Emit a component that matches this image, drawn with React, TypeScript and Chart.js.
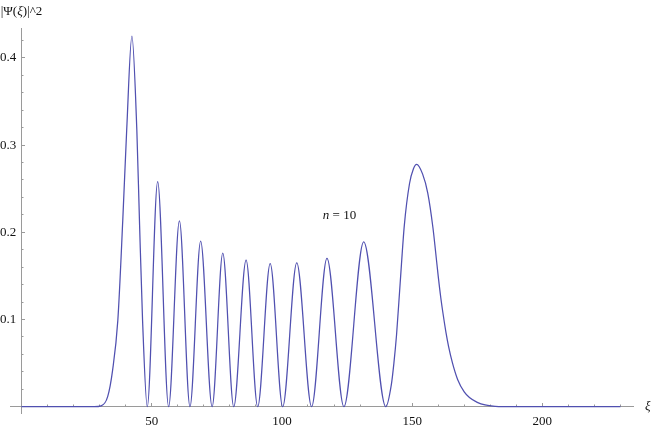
import React, { useEffect, useRef } from 'react';
import { Chart, registerables } from 'chart.js';

Chart.register(...registerables);

// ---- data ----
const xiValues = [
  0, 20, 28, 30.6, 33.1, 35.0, 37.0, 38.9, 40.4, 42.4, 44.3, 45.3, 46.5, 48.3,
  52.3, 56.5, 60.65, 64.7, 68.8, 73.2, 77.3, 81.5, 86.25, 90.7, 95.5, 100.3,
  105.7, 111.4, 117.3, 123.8, 131.4, 139.9,
  142, 143, 144, 145.4, 147, 149, 150.5, 151.7, 154, 156, 158, 159, 160, 161, 162, 163,
  164, 165.5, 167.5, 170, 172, 175, 178, 182, 188, 230,
];
const psiSquared = [
  0, 0, 0, 0.001, 0.0115, 0.042, 0.099, 0.214, 0.317, 0.425, 0.317, 0.214, 0.099, 0,
  0.258, 0, 0.213, 0, 0.19, 0, 0.176, 0, 0.168, 0, 0.164, 0,
  0.165, 0, 0.17, 0, 0.189, 0,
  0.025, 0.05, 0.082, 0.1415, 0.208, 0.256, 0.273, 0.278, 0.267, 0.245, 0.205, 0.178, 0.15, 0.125, 0.104, 0.085,
  0.069, 0.05, 0.031, 0.017, 0.0105, 0.005, 0.002, 0.0005, 0, 0,
];
const xMajorTickLabels = [50, 100, 150, 200];
const yMajorTickLabels = [0.1, 0.2, 0.3, 0.4];
const xRange = [-4.4, 234.8];
const yRange = [-0.0072, 0.4343];
const yAxisTitle: [string, boolean][] = [['|Ψ(', false], ['ξ', true], [')|^2', false]];
const xAxisTitle: [string, boolean][] = [['ξ', true]];
const stateLabel: [string, boolean][] = [['n', true], [' = 10', false]];
const stateLabelAt = { x: 122.1, y: 0.219 };

const FONT = "'Liberation Serif', 'DejaVu Serif', serif";
const AXIS_COLOR = '#9a9a9a';
const LINE_COLOR = 'rgb(80, 80, 176)';
const TEXT_COLOR = '#111';

const yLabelFor = (v: number): string => {
  const r = Math.round(v * 10) / 10;
  return yMajorTickLabels.includes(r) && Math.abs(v - r) < 1e-6 ? String(r) : '';
};

const textPlugin = {
  id: 'mmaText',
  afterDraw(chart: any) {
    const ctx = chart.ctx as CanvasRenderingContext2D;
    const xs = chart.scales.x;
    const ys = chart.scales.y;
    const drawRuns = (runs: [string, boolean][], cx: number, cy: number, align: 'center' | 'left') => {
      ctx.save();
      ctx.textBaseline = 'middle';
      ctx.textAlign = 'left';
      ctx.fillStyle = TEXT_COLOR;
      const fonts = runs.map(([, it]) => `${it ? 'italic ' : ''}13px ${FONT}`);
      const widths = runs.map(([t], i) => {
        ctx.font = fonts[i];
        return ctx.measureText(t).width;
      });
      const total = widths.reduce((a, b) => a + b, 0);
      let x = align === 'center' ? cx - total / 2 : cx;
      runs.forEach(([t], i) => {
        ctx.font = fonts[i];
        ctx.fillText(t, x, cy);
        x += widths[i];
      });
      ctx.restore();
    };
    // y tick labels, taken from the y scale's own ticks
    const axisX = xs.getPixelForValue(0);
    ctx.save();
    ctx.font = `13px ${FONT}`;
    ctx.fillStyle = TEXT_COLOR;
    ctx.textAlign = 'right';
    ctx.textBaseline = 'middle';
    ys.ticks.forEach((t: any) => {
      const label = yLabelFor(Number(t.value));
      if (label) ctx.fillText(label, axisX - 5.2, ys.getPixelForValue(t.value));
    });
    ctx.restore();

    drawRuns(yAxisTitle, axisX, ys.top - 16, 'center');
    drawRuns(xAxisTitle, xs.right + 12, ys.getPixelForValue(0), 'left');
    drawRuns(stateLabel, xs.getPixelForValue(stateLabelAt.x), ys.getPixelForValue(stateLabelAt.y), 'center');
  },
};

export default function App() {
  const canvasRef = useRef<HTMLCanvasElement | null>(null);

  useEffect(() => {
    if (!canvasRef.current) return;
    const points = xiValues.map((x, i) => ({ x, y: psiSquared[i] }));
    const tickFont = { family: FONT, size: 13 };
    const chart = new Chart(canvasRef.current, {
      type: 'line',
      data: {
        datasets: [
          {
            data: points,
            borderColor: LINE_COLOR,
            borderWidth: 1.25,
            pointRadius: 0,
            fill: false,
            cubicInterpolationMode: 'monotone',
            xAxisID: 'x',
            yAxisID: 'y',
          },
        ],
      },
      options: {
        animation: false,
        responsive: true,
        maintainAspectRatio: false,
        layout: { padding: { left: 10, top: 28, right: 21, bottom: 14 } },
        plugins: { legend: { display: false }, tooltip: { enabled: false }, title: { display: false } },
        scales: {
          x: {
            type: 'linear',
            axis: 'x',
            position: { y: 0 } as any,
            min: xRange[0],
            max: xRange[1],
            border: { display: true, color: AXIS_COLOR, width: 1 },
            grid: { drawOnChartArea: false, drawTicks: true, tickLength: -4, color: AXIS_COLOR },
            ticks: {
              stepSize: 50,
              includeBounds: false,
              autoSkip: false,
              maxRotation: 0,
              padding: 11.5,
              color: TEXT_COLOR,
              font: tickFont,
              callback: (v: any) => (xMajorTickLabels.includes(Number(v)) ? String(v) : ''),
            },
          },
          x2: {
            type: 'linear',
            axis: 'x',
            position: { y: 0 } as any,
            min: xRange[0],
            max: xRange[1],
            border: { display: false },
            grid: { drawOnChartArea: false, drawTicks: true, tickLength: -2.5, color: AXIS_COLOR },
            ticks: { stepSize: 10, includeBounds: false, display: false },
          },
          y: {
            type: 'linear',
            axis: 'y',
            position: { x: 0 } as any,
            min: yRange[0],
            max: yRange[1],
            border: { display: true, color: AXIS_COLOR, width: 1 },
            grid: { drawOnChartArea: false, drawTicks: true, tickLength: -4, color: AXIS_COLOR },
            ticks: {
              stepSize: 0.1,
              includeBounds: false,
              autoSkip: false,
              display: false,
            },
          },
          y2: {
            type: 'linear',
            axis: 'y',
            position: { x: 0 } as any,
            min: yRange[0],
            max: yRange[1],
            border: { display: false },
            grid: { drawOnChartArea: false, drawTicks: true, tickLength: -2.5, color: AXIS_COLOR },
            ticks: { stepSize: 0.02, includeBounds: false, display: false },
          },
        },
      } as any,
      plugins: [textPlugin],
    });
    return () => chart.destroy();
  }, []);

  return (
    <div style={{ position: 'fixed', left: 0, top: 0, width: 654, height: 427, background: '#fff' }}>
      <canvas ref={canvasRef} />
    </div>
  );
}
